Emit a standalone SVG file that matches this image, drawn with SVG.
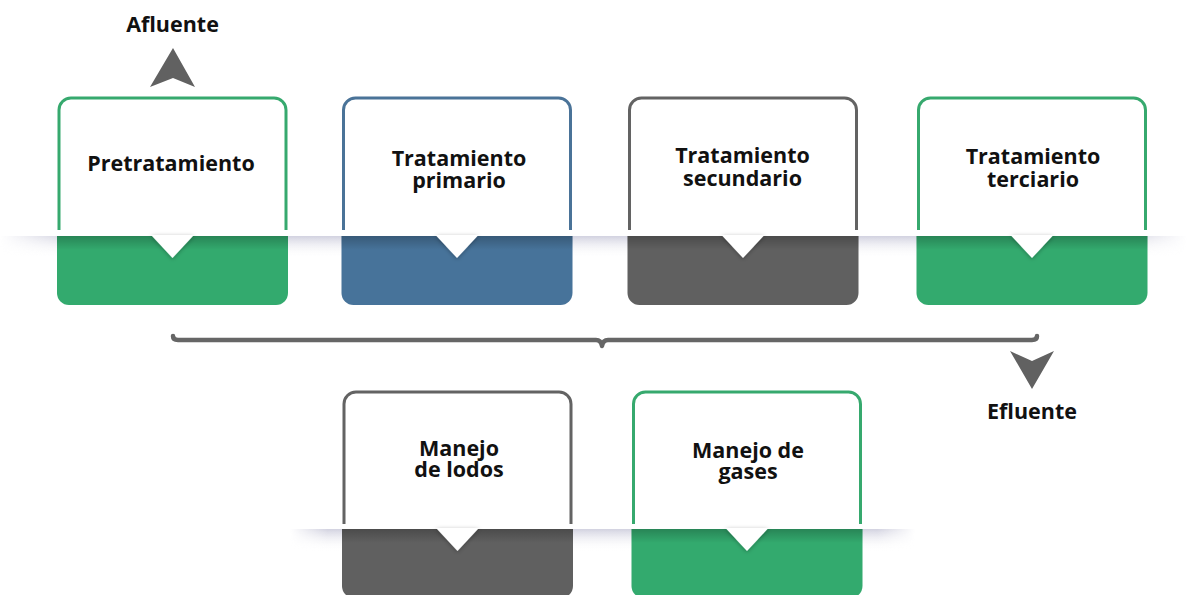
<svg xmlns="http://www.w3.org/2000/svg" width="1187" height="595" viewBox="0 0 1187 595">
<defs>
<style>
.lbl{font-family:"Open Sans","Noto Sans","Liberation Sans",sans-serif;font-weight:700;font-size:21.5px;fill:#111;text-anchor:middle}
.card{fill:#fff;stroke-width:3}
.notch{fill:#fff;filter:url(#ns)}
.green .card{stroke:#36a96e}.green .blk{fill:#33aa6e}
.blue .card{stroke:#4a7398}.blue .blk{fill:#47739a}
.gray .card{stroke:#636363}.gray .blk{fill:#606060}
.ish{fill:url(#inner)}
.brace{fill:none;stroke:#666;stroke-width:4.5;stroke-linejoin:round;stroke-linecap:round}
.arrow{fill:#616161}
</style>
<linearGradient id="band" x1="0" y1="0" x2="0" y2="1">
<stop offset="0" stop-color="#d2d2e0"/>
<stop offset="1" stop-color="#ffffff" stop-opacity="0"/>
</linearGradient>
<linearGradient id="hfade" x1="0" y1="0" x2="1" y2="0">
<stop offset="0" stop-color="#fff" stop-opacity="0"/>
<stop offset="0.06" stop-color="#fff" stop-opacity="1"/>
<stop offset="0.94" stop-color="#fff" stop-opacity="1"/>
<stop offset="1" stop-color="#fff" stop-opacity="0"/>
</linearGradient>
<mask id="m1" maskContentUnits="objectBoundingBox"><rect x="0" y="0" width="1" height="1" fill="url(#hfade)"/></mask>
<linearGradient id="inner" x1="0" y1="0" x2="0" y2="1">
<stop offset="0" stop-color="#000" stop-opacity="0.22"/>
<stop offset="1" stop-color="#000" stop-opacity="0"/>
</linearGradient>
<filter id="ns" x="-50%" y="-50%" width="200%" height="200%">
<feDropShadow dx="0" dy="1" stdDeviation="2" flood-color="#000" flood-opacity="0.3"/>
</filter>
</defs>
<rect width="1187" height="595" fill="#fff"/>
<g id="shadow-bands">
<rect x="0" y="236" width="1187" height="22" fill="url(#band)" mask="url(#m1)"/>
<rect x="290" y="529" width="625" height="22" fill="url(#band)" mask="url(#m1)"/>
</g>
<g id="node-pretratamiento" class="green">
<path class="card" d="M59 230 V110 A12 12 0 0 1 71 98 H274 A12 12 0 0 1 286 110 V230"/>
<path class="blk" d="M57 236 H288 V293 A12 12 0 0 1 276 305 H69 A12 12 0 0 1 57 293 Z"/>
<rect class="ish" x="57" y="236" width="231" height="14"/>
<path class="notch" d="M151 235 H194 L172.5 258 Z"/>
<text class="lbl" x="171" y="170.5">Pretratamiento</text>
</g>
<g id="node-primario" class="blue">
<path class="card" d="M343.5 230 V110 A12 12 0 0 1 355.5 98 H558.5 A12 12 0 0 1 570.5 110 V230"/>
<path class="blk" d="M341.5 236 H572.5 V293 A12 12 0 0 1 560.5 305 H353.5 A12 12 0 0 1 341.5 293 Z"/>
<rect class="ish" x="341.5" y="236" width="231" height="14"/>
<path class="notch" d="M435.5 235 H478.5 L457 258 Z"/>
<text class="lbl" x="459" y="166">Tratamiento</text>
<text class="lbl" x="459" y="187.5">primario</text>
</g>
<g id="node-secundario" class="gray">
<path class="card" d="M629.5 230 V110 A12 12 0 0 1 641.5 98 H844.5 A12 12 0 0 1 856.5 110 V230"/>
<path class="blk" d="M627.5 236 H858.5 V293 A12 12 0 0 1 846.5 305 H639.5 A12 12 0 0 1 627.5 293 Z"/>
<rect class="ish" x="627.5" y="236" width="231" height="14"/>
<path class="notch" d="M721.5 235 H764.5 L743 258 Z"/>
<text class="lbl" x="742.5" y="163">Tratamiento</text>
<text class="lbl" x="742.5" y="186">secundario</text>
</g>
<g id="node-terciario" class="green">
<path class="card" d="M918.5 230 V110 A12 12 0 0 1 930.5 98 H1133.5 A12 12 0 0 1 1145.5 110 V230"/>
<path class="blk" d="M916.5 236 H1147.5 V293 A12 12 0 0 1 1135.5 305 H928.5 A12 12 0 0 1 916.5 293 Z"/>
<rect class="ish" x="916.5" y="236" width="231" height="14"/>
<path class="notch" d="M1010.5 235 H1053.5 L1032 258 Z"/>
<text class="lbl" x="1033" y="164">Tratamiento</text>
<text class="lbl" x="1033" y="187">terciario</text>
</g>
<g id="node-lodos" class="gray">
<path class="card" d="M344 524 V404 A12 12 0 0 1 356 392 H559 A12 12 0 0 1 571 404 V524"/>
<path class="blk" d="M342 529 H573 V586 A12 12 0 0 1 561 598 H354 A12 12 0 0 1 342 586 Z"/>
<rect class="ish" x="342" y="529" width="231" height="14"/>
<path class="notch" d="M436 528 H479 L457.5 551 Z"/>
<text class="lbl" x="459" y="456">Manejo</text>
<text class="lbl" x="459" y="477">de lodos</text>
</g>
<g id="node-gases" class="green">
<path class="card" d="M633.5 524 V404 A12 12 0 0 1 645.5 392 H848.5 A12 12 0 0 1 860.5 404 V524"/>
<path class="blk" d="M631.5 529 H862.5 V586 A12 12 0 0 1 850.5 598 H643.5 A12 12 0 0 1 631.5 586 Z"/>
<rect class="ish" x="631.5" y="529" width="231" height="14"/>
<path class="notch" d="M725.5 528 H768.5 L747 551 Z"/>
<text class="lbl" x="748" y="458">Manejo de</text>
<text class="lbl" x="748" y="479">gases</text>
</g>
<g id="connectors">
<path class="brace" d="M173 336 Q173 340 178 340 H596 Q601 340 602 346 Q603 340 608 340 H1032 Q1037 340 1037 336"/>
<path class="arrow" d="M173 48 L195 87 L173 78 L150 87 Z"/>
<path class="arrow" d="M1010 351 L1032 361 L1054 351 L1032 389 Z"/>
</g>
<g id="labels">
<text class="lbl" x="172.5" y="32">Afluente</text>
<text class="lbl" x="1032" y="419">Efluente</text>
</g>
</svg>
